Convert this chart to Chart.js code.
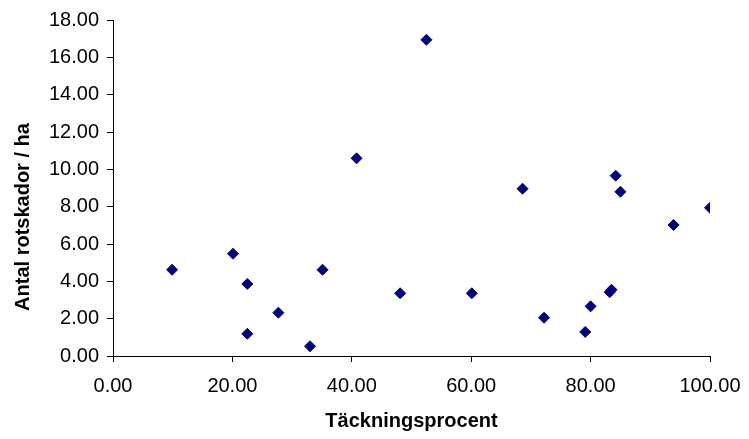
<!DOCTYPE html>
<html>
<head>
<meta charset="utf-8">
<script src="https://cdn.jsdelivr.net/npm/chart.js@4"></script>
<style>
    html, body { margin: 0; padding: 0; background: #ffffff; }
    #wrap { width: 749px; height: 439px; }
</style>
</head>
<body>
<div id="wrap"><canvas id="scatterChart" width="749" height="439"></canvas></div>
<script>
// Täckningsprocent vs antal rotskador per hektar
const coverPercent = [9.9, 20.1, 22.5, 22.5, 27.7, 33.0, 35.1, 40.8, 48.1, 52.5, 60.1,
    68.6, 72.2, 79.1, 80.0, 83.2, 83.5, 84.2, 85.0, 93.9, 100.0];
const rootDamage = [4.62, 5.48, 3.86, 1.19, 2.32, 0.52, 4.62, 10.59, 3.36, 16.94, 3.36,
    8.96, 2.05, 1.29, 2.66, 3.42, 3.55, 9.66, 8.80, 7.02, 7.94];
const xTicks = [0, 20, 40, 60, 80, 100];
const yTicks = [0, 2, 4, 6, 8, 10, 12, 14, 16, 18];

const xTitle = 'Täckningsprocent';
const yTitle = 'Antal rotskador / ha';

const points = coverPercent.map((x, i) => ({ x: x, y: rootDamage[i] }));

const FONT = '"Liberation Sans", Arial, sans-serif';

// axis titles, placed like the spreadsheet original
const axisTitles = {
    id: 'axisTitles',
    afterDraw(chart) {
        const ctx = chart.ctx;
        const area = chart.chartArea;
        ctx.save();
        ctx.fillStyle = '#000000';
        ctx.font = 'bold 20px ' + FONT;
        ctx.textAlign = 'center';
        ctx.textBaseline = 'middle';
        ctx.fillText(xTitle, (area.left + area.right) / 2, 421);
        ctx.translate(23, 217);
        ctx.rotate(-Math.PI / 2);
        ctx.fillText(yTitle, 0, 0);
        ctx.restore();
    }
};

new Chart(document.getElementById('scatterChart'), {
    type: 'scatter',
    data: {
        datasets: [{
            label: yTitle,
            data: points,
            backgroundColor: '#000080',
            borderColor: '#000080',
            borderWidth: 1,
            pointStyle: 'rectRot',
            pointRadius: 5.5,
            pointHoverRadius: 5.5
        }]
    },
    options: {
        responsive: false,
        animation: false,
        layout: {
            padding: { left: 0, top: 20, right: 39, bottom: 0 }
        },
        plugins: {
            legend: { display: false },
            tooltip: { enabled: false }
        },
        scales: {
            x: {
                type: 'linear',
                min: xTicks[0],
                max: xTicks[xTicks.length - 1],
                afterBuildTicks: scale => { scale.ticks = xTicks.map(v => ({ value: v })); },
                afterFit: scale => {
                    scale.height = 83;
                    scale.paddingLeft = 0;
                    scale.paddingRight = 0;
                },
                ticks: {
                    color: '#000000',
                    font: { family: FONT, size: 20 },
                    padding: 12,
                    maxRotation: 0,
                    callback: v => v.toFixed(2)
                },
                grid: {
                    drawOnChartArea: false,
                    drawTicks: true,
                    tickLength: 6,
                    tickColor: '#000000'
                },
                border: { display: true, color: '#000000', width: 1 }
            },
            y: {
                type: 'linear',
                min: yTicks[0],
                max: yTicks[yTicks.length - 1],
                afterBuildTicks: scale => { scale.ticks = yTicks.map(v => ({ value: v })); },
                afterFit: scale => {
                    scale.width = 113;
                    scale.paddingTop = 0;
                    scale.paddingBottom = 0;
                },
                ticks: {
                    color: '#000000',
                    font: { family: FONT, size: 20 },
                    padding: 8,
                    callback: v => v.toFixed(2)
                },
                grid: {
                    drawOnChartArea: false,
                    drawTicks: true,
                    tickLength: 6,
                    tickColor: '#000000'
                },
                border: { display: true, color: '#000000', width: 1 }
            }
        }
    },
    plugins: [axisTitles]
});
</script>
</body>
</html>
